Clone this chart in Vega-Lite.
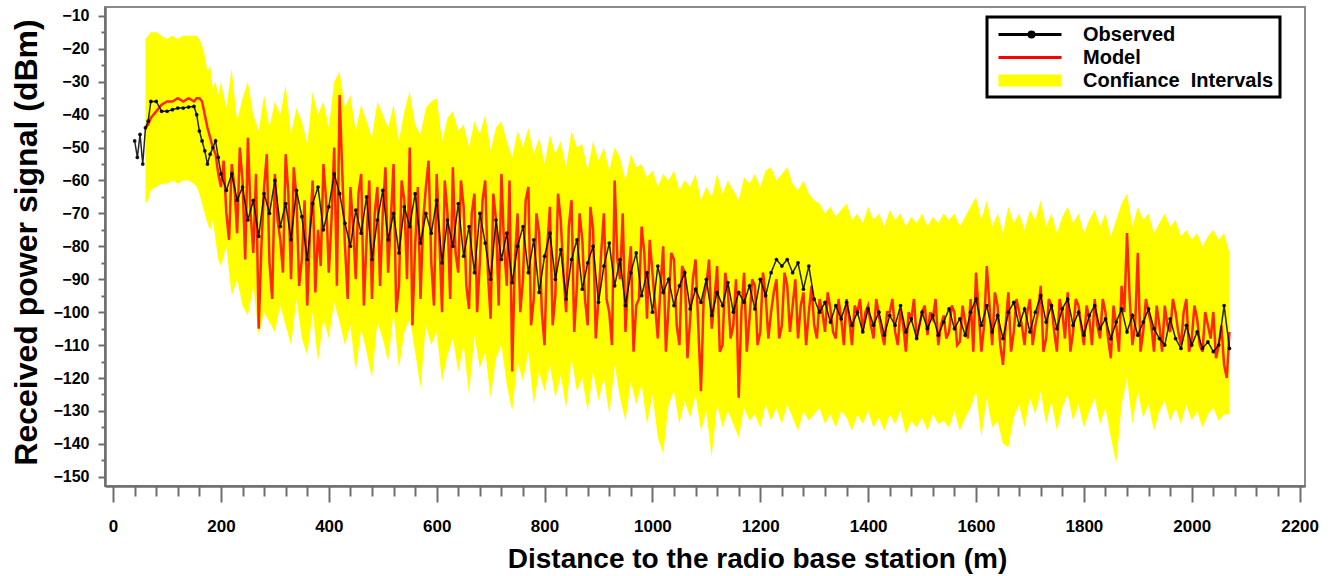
{
  "$schema": "https://vega.github.io/schema/vega-lite/v6.json",
  "width": 1200,
  "height": 479,
  "autosize": {"type": "none"},
  "padding": {"left": 105, "top": 7, "right": 32, "bottom": 90},
  "background": "white",
  "config": {
    "font": "Liberation Sans",
    "view": {"stroke": "#8a8a8a", "strokeWidth": 2},
    "axis": {"grid": false, "domainColor": "#6e6e6e", "domainWidth": 2.5, "tickColor": "#6e6e6e", "tickWidth": 2, "labelFont": "Liberation Sans", "labelFontWeight": "bold", "labelColor": "black", "titleFont": "Liberation Sans", "titleFontWeight": "bold", "titleColor": "black", "labelOverlap": false, "labelFlush": false, "labelBound": false},
    "legend": {"labelLimit": 400, "strokeWidth": 3}
  },
  "resolve": {"axis": {"x": "independent", "y": "independent"}},
  "data": {"values": [
    {"d":40,"o":-48},{"d":45,"o":-53},{"d":50,"o":-46},{"d":55,"o":-55},
    {"d":60,"o":-44,"m":-44,"lo":-67,"hi":-17},
    {"d":65,"o":-42,"m":-43,"lo":-66,"hi":-16},
    {"d":70,"o":-36,"m":-41,"lo":-63,"hi":-15},
    {"d":80,"o":-36,"m":-39,"lo":-62,"hi":-15},
    {"d":90,"o":-39,"m":-37,"lo":-61,"hi":-16},
    {"d":100,"o":-39,"m":-36,"lo":-61,"hi":-17},
    {"d":110,"o":-38.5,"m":-36,"lo":-60,"hi":-16},
    {"d":120,"o":-38,"m":-35,"lo":-61,"hi":-17},
    {"d":130,"o":-38,"m":-36,"lo":-60,"hi":-16},
    {"d":140,"o":-37.7,"m":-35,"lo":-60,"hi":-16},
    {"d":150,"o":-37.5,"m":-36,"lo":-61,"hi":-16},
    {"d":155,"o":-40,"m":-35,"lo":-62,"hi":-16},
    {"d":160,"o":-45,"m":-35,"lo":-64,"hi":-17},
    {"d":165,"o":-48,"m":-36,"lo":-67,"hi":-19},
    {"d":170,"o":-51,"m":-40,"lo":-70,"hi":-22},
    {"d":175,"o":-55,"m":-44,"lo":-73,"hi":-27},
    {"d":180,"o":-52,"m":-47,"lo":-75,"hi":-25},
    {"d":185,"o":-50,"m":-50,"lo":-72,"hi":-32},
    {"d":190,"o":-48,"m":-52,"lo":-78,"hi":-30},
    {"d":195,"o":-53,"m":-58,"lo":-84,"hi":-34},
    {"d":200,"o":-58,"m":-62,"lo":-86,"hi":-30},
    {"d":205,"m":-54},{"d":215,"m":-78},{"d":225,"m":-62},{"d":235,"m":-50},{"d":245,"m":-84},{"d":255,"m":-70},{"d":265,"m":-58},{"d":275,"m":-80},{"d":285,"m":-52},{"d":295,"m":-96},
    {"d":305,"m":-72},{"d":315,"m":-88},{"d":325,"m":-64},{"d":335,"m":-56},{"d":345,"m":-92},{"d":355,"m":-66},{"d":365,"m":-76},{"d":375,"m":-94},{"d":385,"m":-86},{"d":395,"m":-66},
    {"d":405,"m":-72},{"d":415,"m":-92},{"d":425,"m":-58},{"d":435,"m":-96},{"d":445,"m":-74},{"d":455,"m":-64},{"d":465,"m":-98},{"d":475,"m":-60},{"d":485,"m":-70},{"d":495,"m":-92},
    {"d":505,"m":-56},{"d":515,"m":-72},{"d":525,"m":-100},{"d":535,"m":-60},{"d":545,"m":-90},{"d":555,"m":-104},{"d":565,"m":-62},{"d":575,"m":-72},{"d":585,"m":-54},{"d":595,"m":-98},
    {"d":605,"m":-78},{"d":615,"m":-60},{"d":625,"m":-96},{"d":635,"m":-82},{"d":645,"m":-60},{"d":655,"m":-92},{"d":665,"m":-70},{"d":675,"m":-100},{"d":685,"m":-66},{"d":695,"m":-88},
    {"d":705,"m":-64},{"d":715,"m":-98},{"d":725,"m":-80},{"d":735,"m":-60},{"d":745,"m":-84},{"d":755,"m":-100},{"d":765,"m":-66},{"d":775,"m":-104},{"d":785,"m":-70},{"d":795,"m":-100},
    {"d":805,"m":-80},{"d":815,"m":-104},{"d":825,"m":-64},{"d":835,"m":-88},{"d":845,"m":-74},{"d":855,"m":-106},{"d":865,"m":-70},{"d":875,"m":-96},{"d":885,"m":-68},{"d":895,"m":-108},
    {"d":905,"m":-82},{"d":915,"m":-96},{"d":925,"m":-110},{"d":935,"m":-84},{"d":945,"m":-70},{"d":955,"m":-90},{"d":965,"m":-112},{"d":975,"m":-96},{"d":985,"m":-82},{"d":995,"m":-78},
    {"d":1005,"m":-98},{"d":1015,"m":-92},{"d":1025,"m":-112},{"d":1035,"m":-82},{"d":1045,"m":-104},{"d":1055,"m":-86},{"d":1065,"m":-114},{"d":1075,"m":-90},{"d":1085,"m":-104},{"d":1095,"m":-96},
    {"d":1105,"m":-84},{"d":1115,"m":-96},{"d":1125,"m":-112},{"d":1135,"m":-88},{"d":1145,"m":-108},{"d":1155,"m":-90},{"d":1165,"m":-100},{"d":1175,"m":-112},{"d":1185,"m":-90},{"d":1195,"m":-110},
    {"d":1205,"m":-88},{"d":1215,"m":-108},{"d":1225,"m":-94},{"d":1235,"m":-108},{"d":1245,"m":-88},{"d":1255,"m":-106},{"d":1265,"m":-90},{"d":1275,"m":-98},{"d":1285,"m":-110},{"d":1295,"m":-92},
    {"d":1305,"m":-108},{"d":1315,"m":-100},{"d":1325,"m":-94},{"d":1335,"m":-106},{"d":1345,"m":-96},{"d":1355,"m":-110},{"d":1365,"m":-102},{"d":1375,"m":-98},{"d":1385,"m":-96},{"d":1395,"m":-100},
    {"d":1405,"m":-104},{"d":1415,"m":-96},{"d":1425,"m":-106},{"d":1435,"m":-100},{"d":1445,"m":-96},{"d":1455,"m":-110},{"d":1465,"m":-104},{"d":1475,"m":-100},{"d":1485,"m":-96},{"d":1495,"m":-104},
    {"d":1505,"m":-98},{"d":1515,"m":-100},{"d":1525,"m":-96},{"d":1535,"m":-104},{"d":1545,"m":-108},{"d":1555,"m":-98},{"d":1565,"m":-110},{"d":1575,"m":-98},{"d":1585,"m":-108},{"d":1595,"m":-112},
    {"d":1605,"m":-100},{"d":1615,"m":-104},{"d":1625,"m":-98},{"d":1635,"m":-94},{"d":1645,"m":-110},{"d":1655,"m":-104},{"d":1665,"m":-112},{"d":1675,"m":-96},{"d":1685,"m":-104},{"d":1695,"m":-100},
    {"d":1705,"m":-110},{"d":1715,"m":-100},{"d":1725,"m":-112},{"d":1735,"m":-96},{"d":1745,"m":-106},{"d":1755,"m":-96},{"d":1765,"m":-108},{"d":1775,"m":-112},{"d":1785,"m":-96},{"d":1795,"m":-104},
    {"d":1805,"m":-98},{"d":1815,"m":-110},{"d":1825,"m":-104},{"d":1835,"m":-96},{"d":1845,"m":-108},{"d":1855,"m":-98},{"d":1865,"m":-112},{"d":1875,"m":-100},{"d":1885,"m":-96},{"d":1895,"m":-104},
    {"d":1905,"m":-112},{"d":1915,"m":-96},{"d":1925,"m":-104},{"d":1935,"m":-98},{"d":1945,"m":-112},{"d":1955,"m":-104},{"d":1965,"m":-96},{"d":1975,"m":-106},{"d":1985,"m":-100},{"d":1995,"m":-112},
    {"d":2005,"m":-98},{"d":2015,"m":-110},{"d":2025,"m":-100},{"d":2035,"m":-108},{"d":2045,"m":-114},{"d":2055,"m":-104},{"d":2065,"m":-120},
    {"d":210,"o":-63,"m":-70,"lo":-80,"hi":-38},
    {"d":220,"o":-58,"m":-55,"lo":-95,"hi":-26},
    {"d":230,"o":-66,"m":-76,"lo":-90,"hi":-42},
    {"d":240,"o":-62,"m":-60,"lo":-98,"hi":-35},
    {"d":250,"o":-72,"m":-47,"lo":-101,"hi":-30},
    {"d":260,"o":-66,"m":-82,"lo":-92,"hi":-40},
    {"d":270,"o":-77,"m":-105,"lo":-107,"hi":-45},
    {"d":280,"o":-64,"m":-62,"lo":-100,"hi":-34},
    {"d":290,"o":-70,"m":-85,"lo":-103,"hi":-44},
    {"d":300,"o":-60,"m":-58,"lo":-106,"hi":-36},
    {"d":310,"o":-74,"m":-78,"lo":-98,"hi":-40},
    {"d":320,"o":-67,"m":-52,"lo":-104,"hi":-31},
    {"d":330,"o":-78,"m":-90,"lo":-110,"hi":-46},
    {"d":340,"o":-63,"m":-65,"lo":-96,"hi":-38},
    {"d":350,"o":-71,"m":-84,"lo":-108,"hi":-42},
    {"d":360,"o":-84,"m":-98,"lo":-113,"hi":-49},
    {"d":370,"o":-67,"m":-60,"lo":-100,"hi":-33},
    {"d":380,"o":-62,"m":-75,"lo":-115,"hi":-40},
    {"d":390,"o":-75,"m":-55,"lo":-102,"hi":-36},
    {"d":400,"o":-68,"m":-88,"lo":-108,"hi":-44},
    {"d":410,"o":-58,"m":-50,"lo":-97,"hi":-30},
    {"d":420,"o":-64,"m":-34,"lo":-103,"hi":-27},
    {"d":430,"o":-73,"m":-80,"lo":-110,"hi":-38},
    {"d":440,"o":-80,"m":-62,"lo":-104,"hi":-34},
    {"d":450,"o":-69,"m":-90,"lo":-118,"hi":-45},
    {"d":460,"o":-76,"m":-58,"lo":-105,"hi":-37},
    {"d":470,"o":-65,"m":-78,"lo":-112,"hi":-42},
    {"d":480,"o":-84,"m":-96,"lo":-120,"hi":-47},
    {"d":490,"o":-72,"m":-62,"lo":-103,"hi":-36},
    {"d":500,"o":-63,"m":-70,"lo":-108,"hi":-40},
    {"d":510,"o":-78,"m":-88,"lo":-115,"hi":-44},
    {"d":520,"o":-70,"m":-55,"lo":-100,"hi":-37},
    {"d":530,"o":-82,"m":-92,"lo":-117,"hi":-48},
    {"d":540,"o":-68,"m":-66,"lo":-106,"hi":-39},
    {"d":550,"o":-74,"m":-50,"lo":-102,"hi":-33},
    {"d":560,"o":-64,"m":-80,"lo":-112,"hi":-43},
    {"d":570,"o":-79,"m":-96,"lo":-123,"hi":-46},
    {"d":580,"o":-70,"m":-62,"lo":-104,"hi":-38},
    {"d":590,"o":-76,"m":-85,"lo":-110,"hi":-36},
    {"d":600,"o":-66,"m":-58,"lo":-106,"hi":-35},
    {"d":610,"o":-85,"m":-100,"lo":-121,"hi":-48},
    {"d":620,"o":-72,"m":-70,"lo":-113,"hi":-41},
    {"d":630,"o":-80,"m":-56,"lo":-108,"hi":-39},
    {"d":640,"o":-67,"m":-88,"lo":-118,"hi":-45},
    {"d":650,"o":-83,"m":-68,"lo":-110,"hi":-43},
    {"d":660,"o":-74,"m":-99,"lo":-125,"hi":-50},
    {"d":670,"o":-88,"m":-64,"lo":-107,"hi":-42},
    {"d":680,"o":-70,"m":-85,"lo":-117,"hi":-46},
    {"d":690,"o":-79,"m":-60,"lo":-112,"hi":-40},
    {"d":700,"o":-90,"m":-102,"lo":-126,"hi":-51},
    {"d":710,"o":-72,"m":-72,"lo":-114,"hi":-44},
    {"d":720,"o":-84,"m":-58,"lo":-110,"hi":-42},
    {"d":730,"o":-76,"m":-92,"lo":-122,"hi":-48},
    {"d":740,"o":-91,"m":-118,"lo":-130,"hi":-53},
    {"d":750,"o":-80,"m":-70,"lo":-115,"hi":-45},
    {"d":760,"o":-74,"m":-90,"lo":-121,"hi":-50},
    {"d":770,"o":-88,"m":-62,"lo":-112,"hi":-44},
    {"d":780,"o":-78,"m":-96,"lo":-128,"hi":-52},
    {"d":790,"o":-94,"m":-76,"lo":-118,"hi":-47},
    {"d":800,"o":-83,"m":-110,"lo":-124,"hi":-55},
    {"d":810,"o":-76,"m":-68,"lo":-116,"hi":-46},
    {"d":820,"o":-90,"m":-95,"lo":-126,"hi":-52},
    {"d":830,"o":-81,"m":-72,"lo":-119,"hi":-48},
    {"d":840,"o":-96,"m":-100,"lo":-129,"hi":-56},
    {"d":850,"o":-84,"m":-66,"lo":-114,"hi":-45},
    {"d":860,"o":-78,"m":-92,"lo":-124,"hi":-50},
    {"d":870,"o":-93,"m":-78,"lo":-120,"hi":-49},
    {"d":880,"o":-85,"m":-104,"lo":-130,"hi":-57},
    {"d":890,"o":-80,"m":-75,"lo":-118,"hi":-48},
    {"d":900,"o":-97,"m":-96,"lo":-127,"hi":-54},
    {"d":910,"o":-86,"m":-70,"lo":-120,"hi":-50},
    {"d":920,"o":-79,"m":-100,"lo":-131,"hi":-57},
    {"d":930,"o":-92,"m":-60,"lo":-116,"hi":-50},
    {"d":940,"o":-84,"m":-90,"lo":-126,"hi":-53},
    {"d":950,"o":-98,"m":-106,"lo":-133,"hi":-60},
    {"d":960,"o":-88,"m":-80,"lo":-121,"hi":-52},
    {"d":970,"o":-82,"m":-98,"lo":-128,"hi":-56},
    {"d":980,"o":-95,"m":-74,"lo":-122,"hi":-55},
    {"d":990,"o":-88,"m":-102,"lo":-134,"hi":-59},
    {"d":1000,"o":-100,"m":-88,"lo":-125,"hi":-57},
    {"d":1010,"o":-86,"m":-108,"lo":-138,"hi":-62},
    {"d":1020,"o":-94,"m":-80,"lo":-143,"hi":-58},
    {"d":1030,"o":-90,"m":-98,"lo":-128,"hi":-60},
    {"d":1040,"o":-98,"m":-84,"lo":-124,"hi":-57},
    {"d":1050,"o":-92,"m":-110,"lo":-134,"hi":-63},
    {"d":1060,"o":-88,"m":-88,"lo":-127,"hi":-60},
    {"d":1070,"o":-99,"m":-102,"lo":-132,"hi":-62},
    {"d":1080,"o":-93,"m":-84,"lo":-125,"hi":-58},
    {"d":1090,"o":-97,"m":-124,"lo":-136,"hi":-66},
    {"d":1100,"o":-90,"m":-92,"lo":-130,"hi":-62},
    {"d":1110,"o":-101,"m":-105,"lo":-144,"hi":-65},
    {"d":1120,"o":-94,"m":-86,"lo":-128,"hi":-58},
    {"d":1130,"o":-98,"m":-110,"lo":-135,"hi":-64},
    {"d":1140,"o":-91,"m":-94,"lo":-130,"hi":-60},
    {"d":1150,"o":-100,"m":-104,"lo":-134,"hi":-63},
    {"d":1160,"o":-94,"m":-126,"lo":-138,"hi":-66},
    {"d":1170,"o":-97,"m":-88,"lo":-129,"hi":-59},
    {"d":1180,"o":-92,"m":-102,"lo":-133,"hi":-61},
    {"d":1190,"o":-99,"m":-92,"lo":-131,"hi":-58},
    {"d":1200,"o":-90,"m":-106,"lo":-135,"hi":-62},
    {"d":1210,"o":-95,"m":-95,"lo":-128,"hi":-57},
    {"d":1220,"o":-88,"m":-100,"lo":-133,"hi":-56},
    {"d":1230,"o":-84,"m":-90,"lo":-129,"hi":-60},
    {"d":1240,"o":-86,"m":-104,"lo":-134,"hi":-58},
    {"d":1250,"o":-84,"m":-92,"lo":-128,"hi":-56},
    {"d":1260,"o":-88,"m":-98,"lo":-132,"hi":-61},
    {"d":1270,"o":-85,"m":-108,"lo":-136,"hi":-63},
    {"d":1280,"o":-93,"m":-94,"lo":-130,"hi":-60},
    {"d":1290,"o":-86,"m":-100,"lo":-133,"hi":-64},
    {"d":1300,"o":-96,"m":-104,"lo":-131,"hi":-66},
    {"d":1310,"o":-100,"m":-96,"lo":-129,"hi":-67},
    {"d":1320,"o":-97,"m":-106,"lo":-134,"hi":-70},
    {"d":1330,"o":-103,"m":-99,"lo":-131,"hi":-68},
    {"d":1340,"o":-98,"m":-108,"lo":-135,"hi":-71},
    {"d":1350,"o":-102,"m":-102,"lo":-130,"hi":-69},
    {"d":1360,"o":-97,"m":-96,"lo":-132,"hi":-67},
    {"d":1370,"o":-104,"m":-110,"lo":-136,"hi":-72},
    {"d":1380,"o":-100,"m":-100,"lo":-131,"hi":-70},
    {"d":1390,"o":-106,"m":-106,"lo":-134,"hi":-73},
    {"d":1400,"o":-99,"m":-98,"lo":-130,"hi":-68},
    {"d":1410,"o":-104,"m":-108,"lo":-135,"hi":-72},
    {"d":1420,"o":-100,"m":-101,"lo":-132,"hi":-70},
    {"d":1430,"o":-107,"m":-110,"lo":-136,"hi":-74},
    {"d":1440,"o":-101,"m":-100,"lo":-131,"hi":-69},
    {"d":1450,"o":-104,"m":-106,"lo":-134,"hi":-72},
    {"d":1460,"o":-98,"m":-99,"lo":-130,"hi":-70},
    {"d":1470,"o":-106,"m":-112,"lo":-137,"hi":-74},
    {"d":1480,"o":-102,"m":-102,"lo":-133,"hi":-71},
    {"d":1490,"o":-108,"m":-108,"lo":-135,"hi":-73},
    {"d":1500,"o":-100,"m":-100,"lo":-132,"hi":-70},
    {"d":1510,"o":-105,"m":-107,"lo":-136,"hi":-74},
    {"d":1520,"o":-101,"m":-102,"lo":-131,"hi":-71},
    {"d":1530,"o":-107,"m":-110,"lo":-134,"hi":-73},
    {"d":1540,"o":-103,"m":-101,"lo":-133,"hi":-70},
    {"d":1550,"o":-99,"m":-106,"lo":-135,"hi":-72},
    {"d":1560,"o":-105,"m":-100,"lo":-130,"hi":-70},
    {"d":1570,"o":-102,"m":-109,"lo":-136,"hi":-74},
    {"d":1580,"o":-107,"m":-103,"lo":-132,"hi":-71},
    {"d":1590,"o":-100,"m":-96,"lo":-129,"hi":-68},
    {"d":1600,"o":-96,"m":-88,"lo":-124,"hi":-65},
    {"d":1610,"o":-104,"m":-112,"lo":-138,"hi":-72},
    {"d":1620,"o":-98,"m":-86,"lo":-126,"hi":-66},
    {"d":1630,"o":-106,"m":-110,"lo":-135,"hi":-74},
    {"d":1640,"o":-101,"m":-98,"lo":-133,"hi":-70},
    {"d":1650,"o":-108,"m":-116,"lo":-140,"hi":-76},
    {"d":1660,"o":-100,"m":-94,"lo":-141,"hi":-68},
    {"d":1670,"o":-97,"m":-106,"lo":-132,"hi":-73},
    {"d":1680,"o":-104,"m":-100,"lo":-128,"hi":-70},
    {"d":1690,"o":-99,"m":-110,"lo":-135,"hi":-75},
    {"d":1700,"o":-106,"m":-96,"lo":-126,"hi":-69},
    {"d":1710,"o":-100,"m":-104,"lo":-131,"hi":-72},
    {"d":1720,"o":-95,"m":-92,"lo":-124,"hi":-66},
    {"d":1730,"o":-103,"m":-108,"lo":-134,"hi":-74},
    {"d":1740,"o":-98,"m":-98,"lo":-127,"hi":-70},
    {"d":1750,"o":-105,"m":-112,"lo":-136,"hi":-76},
    {"d":1760,"o":-99,"m":-100,"lo":-129,"hi":-71},
    {"d":1770,"o":-96,"m":-94,"lo":-125,"hi":-68},
    {"d":1780,"o":-104,"m":-106,"lo":-133,"hi":-73},
    {"d":1790,"o":-100,"m":-98,"lo":-128,"hi":-70},
    {"d":1800,"o":-107,"m":-110,"lo":-135,"hi":-76},
    {"d":1810,"o":-101,"m":-102,"lo":-130,"hi":-72},
    {"d":1820,"o":-98,"m":-96,"lo":-126,"hi":-69},
    {"d":1830,"o":-105,"m":-108,"lo":-134,"hi":-74},
    {"d":1840,"o":-102,"m":-100,"lo":-129,"hi":-70},
    {"d":1850,"o":-108,"m":-114,"lo":-138,"hi":-77},
    {"d":1860,"o":-103,"m":-104,"lo":-146,"hi":-72},
    {"d":1870,"o":-99,"m":-92,"lo":-128,"hi":-67},
    {"d":1880,"o":-106,"m":-76,"lo":-120,"hi":-64},
    {"d":1890,"o":-101,"m":-110,"lo":-134,"hi":-74},
    {"d":1900,"o":-107,"m":-82,"lo":-124,"hi":-68},
    {"d":1910,"o":-103,"m":-106,"lo":-132,"hi":-72},
    {"d":1920,"o":-99,"m":-100,"lo":-128,"hi":-70},
    {"d":1930,"o":-105,"m":-112,"lo":-136,"hi":-76},
    {"d":1940,"o":-108,"m":-104,"lo":-130,"hi":-73},
    {"d":1950,"o":-110,"m":-98,"lo":-127,"hi":-70},
    {"d":1960,"o":-102,"m":-106,"lo":-133,"hi":-74},
    {"d":1970,"o":-108,"m":-100,"lo":-129,"hi":-72},
    {"d":1980,"o":-111,"m":-110,"lo":-134,"hi":-77},
    {"d":1990,"o":-104,"m":-96,"lo":-128,"hi":-75},
    {"d":2000,"o":-110,"m":-108,"lo":-133,"hi":-78},
    {"d":2010,"o":-106,"m":-102,"lo":-130,"hi":-76},
    {"d":2020,"o":-111,"m":-112,"lo":-135,"hi":-80},
    {"d":2030,"o":-109,"m":-104,"lo":-131,"hi":-77},
    {"d":2040,"o":-112,"m":-100,"lo":-129,"hi":-75},
    {"d":2050,"o":-110,"m":-110,"lo":-133,"hi":-78},
    {"d":2060,"o":-98,"m":-116,"lo":-131,"hi":-76},
    {"d":2070,"o":-111,"m":-106,"lo":-131,"hi":-82}
  ]},
  "layer": [
    {
      "mark": {"type": "area", "opacity": 1, "invalid": "filter"},
      "encoding": {
        "x": {"field": "d", "type": "quantitative",
          "scale": {"domain": [-15, 2210], "nice": false, "zero": false},
          "axis": {"orient": "bottom", "values": [0,200,400,600,800,1000,1200,1400,1600,1800,2000,2200],
            "format": "d", "labelOverlap": false, "labelFlush": false,
            "tickSize": 16,
            "labelFontSize": 17, "labelBaseline": "alphabetic", "labelPadding": 29,
            "title": "Distance to the radio base station (m)", "titleFontSize": 28,
            "titleX": 652, "titleY": 81, "titleBaseline": "alphabetic", "titleAlign": "center"}},
        "y": {"field": "lo", "type": "quantitative",
          "scale": {"domain": [-152.8, -7.3], "nice": false, "zero": false},
          "axis": {"orient": "left", "values": [-150,-140,-130,-120,-110,-100,-90,-80,-70,-60,-50,-40,-30,-20,-10],
            "format": "d", "labelOverlap": false, "labelFlush": false,
            "tickSize": 7,
            "labelFontSize": 16, "labelPadding": 9,
            "title": "Received power signal (dBm)", "titleFontSize": 32,
            "titleX": -69, "titleY": 235, "titleAngle": 270, "titleBaseline": "alphabetic", "titleAlign": "center"}},
        "y2": {"field": "hi"},
        "color": {"datum": "Confiance Intervals", "type": "nominal",
          "scale": {"domain": ["Observed", "Model", "Confiance Intervals"], "range": ["#000000", "#ff0000", "#ffff00"]},
          "legend": {"title": null, "orient": "none", "legendX": 882, "legendY": 10,
            "padding": 6, "rowPadding": 1, "labelOffset": 67, "labelLimit": 400,
            "labelFontSize": 20, "labelFontWeight": "bold", "labelFont": "Liberation Sans", "labelColor": "black",
            "strokeColor": "black", "fillColor": "white",
            "symbolSize": 400, "symbolStrokeWidth": 3,
            "symbolType": {"expr": "datum.value === 'Observed' ? 'M-0.6,0H5.7M2.45,0a0.25,0.25 0 1,0 0.5,0a0.25,0.25 0 1,0 -0.5,0' : datum.value === 'Model' ? 'M-0.6,0H5.7' : 'M-0.45,-0.45H5.55V0.45H-0.45Z'"},
            "symbolStrokeColor": {"expr": "datum.value === 'Observed' ? '#000000' : datum.value === 'Model' ? '#e0262b' : '#ffee00'"},
            "symbolFillColor": {"expr": "datum.value === 'Observed' ? '#000000' : datum.value === 'Model' ? 'transparent' : '#ffee00'"},
            "labelExpr": "datum.label === 'Confiance Intervals' ? 'Confiance\u00a0 Intervals' : datum.label"}}
      }
    },
    {
      "mark": {"type": "line", "strokeWidth": 2.5, "opacity": 0.85, "invalid": "filter"},
      "encoding": {
        "x": {"field": "d", "type": "quantitative",
          "axis": {"orient": "bottom", "values": [40,80,120,160,240,280,320,360,440,480,520,560,640,680,720,760,840,880,920,960,1040,1080,1120,1160,1240,1280,1320,1360,1440,1480,1520,1560,1640,1680,1720,1760,1840,1880,1920,1960,2040,2080,2120,2160],
            "labels": false, "domain": false, "tickSize": 10, "title": null}},
        "y": {"field": "m", "type": "quantitative",
          "axis": {"orient": "left", "values": [-145,-135,-125,-115,-105,-95,-85,-75,-65,-55,-45,-35,-25,-15],
            "labels": false, "domain": false, "tickSize": 4, "title": null}},
        "order": {"field": "d", "type": "quantitative"},
        "color": {"datum": "Model", "type": "nominal"}
      }
    },
    {
      "mark": {"type": "line", "strokeWidth": 1.5, "opacity": 0.85, "invalid": "filter", "point": {"filled": true, "size": 14, "opacity": 0.9}},
      "encoding": {
        "x": {"field": "d", "type": "quantitative", "axis": null},
        "y": {"field": "o", "type": "quantitative", "axis": null},
        "order": {"field": "d", "type": "quantitative"},
        "color": {"datum": "Observed", "type": "nominal"}
      }
    }
  ]
}
